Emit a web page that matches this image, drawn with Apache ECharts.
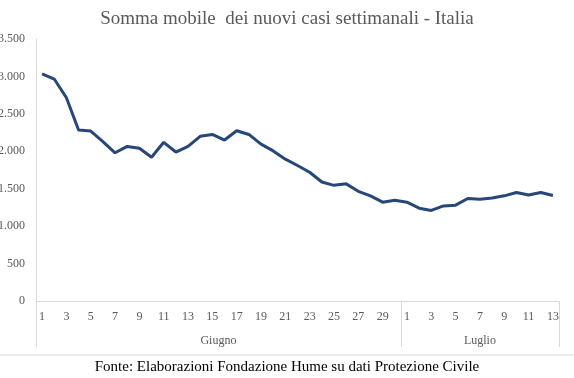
<!DOCTYPE html>
<html>
<head>
<meta charset="utf-8">
<script src="https://cdn.jsdelivr.net/npm/echarts@6/dist/echarts.min.js"></script>
<style>html,body{margin:0;padding:0;background:#fff}#c{width:574px;height:378px}</style>
</head>
<body>
<div id="c"></div>
<script>
const junDays = [];
for (let d = 1; d <= 30; d++) junDays.push(String(d));
const julDays = [];
for (let d = 1; d <= 13; d++) julDays.push(String(d));
const categories = junDays.concat(julDays);
const months = ["Giugno", "Luglio"];
const casi = [3035, 2965, 2715, 2285, 2270, 2130, 1980, 2065, 2040, 1920,
              2120, 1990, 2065, 2200, 2225, 2150, 2275, 2225, 2095, 2005,
              1895, 1810, 1720, 1590, 1545, 1565, 1465, 1405, 1320, 1345,
              1320, 1240, 1210, 1270, 1280, 1370, 1360, 1375, 1405, 1450,
              1415, 1450, 1410];
const yTicks = [0, 500, 1000, 1500, 2000, 2500, 3000, 3500];

const n = categories.length;
const nJun = junDays.length;
const serif = "'Liberation Serif', serif";
const chart = echarts.init(document.getElementById('c'));
chart.setOption({
  animation: false,
  title: {
    text: 'Somma mobile  dei nuovi casi settimanali - Italia',
    left: 'center', top: 5,
    textStyle: { fontFamily: serif, fontSize: 19, fontWeight: 'normal', color: '#595959' }
  },
  grid: { left: 36, right: 15, top: 39, bottom: 77, outerBoundsMode: 'none', containLabel: false },
  xAxis: [{
    type: 'category',
    data: categories,
    boundaryGap: true,
    axisLine: { lineStyle: { color: '#d9d9d9' } },
    axisTick: { show: false },
    axisLabel: { interval: 1, color: '#595959', fontFamily: serif, fontSize: 12, margin: 10 }
  }, {
    type: 'value',
    min: 0, max: n,
    position: 'bottom',
    axisLine: { show: false },
    splitLine: { show: false },
    axisTick: { show: true, length: 46, customValues: [0, nJun, n], lineStyle: { color: '#d9d9d9' } },
    axisLabel: {
      customValues: [nJun / 2, nJun + (n - nJun) / 2],
      formatter: function (v) { return v < nJun ? months[0] : months[1]; },
      color: '#595959', fontFamily: serif, fontSize: 12, margin: 34
    }
  }],
  yAxis: {
    type: 'value',
    min: yTicks[0], max: yTicks[yTicks.length - 1], interval: 500,
    axisLine: { show: true, lineStyle: { color: '#d9d9d9' } },
    axisTick: { show: false },
    splitLine: { show: false },
    axisLabel: {
      color: '#595959', fontFamily: serif, fontSize: 12, margin: 11,
      formatter: function (v) { return v >= 1000 ? Math.floor(v / 1000) + '.' + String(v % 1000).padStart(3, '0') : String(v); }
    }
  },
  series: [{
    type: 'line',
    data: casi,
    xAxisIndex: 0,
    symbol: 'none',
    lineStyle: { color: '#264778', width: 3 }
  }],
  graphic: [{
    type: 'line',
    shape: { x1: 0, y1: 355, x2: 574, y2: 355 },
    style: { stroke: '#d9d9d9', lineWidth: 1 }
  }, {
    type: 'text',
    left: 'center', top: 360,
    style: { text: 'Fonte: Elaborazioni Fondazione Hume su dati Protezione Civile', font: "15px 'Liberation Serif', serif", fill: '#000' }
  }]
});
</script>
</body>
</html>
